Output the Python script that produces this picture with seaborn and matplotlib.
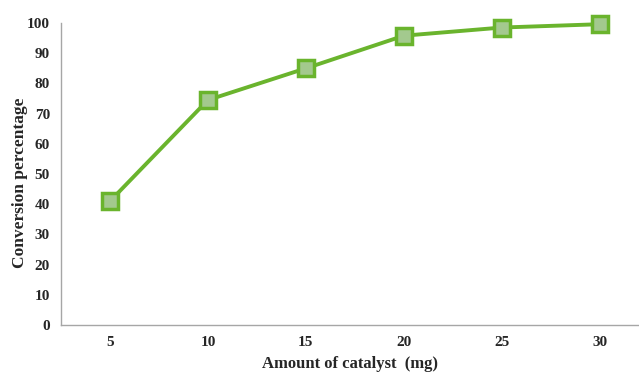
import matplotlib
matplotlib.use("Agg")
import matplotlib.pyplot as plt
import seaborn as sns
import pandas as pd

# data
catalyst_mg = ["5", "10", "15", "20", "25", "30"]
conversion = [41, 74.5, 85, 95.8, 98.5, 99.6]

sns.set_style("white")
plt.rcParams['font.family'] = ['Liberation Serif', 'DejaVu Serif']
plt.rcParams['font.weight'] = 'bold'

df = pd.DataFrame({"pos": range(len(catalyst_mg)), "conv": conversion})

fig = plt.figure(figsize=(6.39, 3.74), dpi=100)
ax = fig.add_axes([61 / 639, 49 / 374, (639 - 61) / 639, 302 / 374])

green = '#6ab42d'
sns.lineplot(data=df, x="pos", y="conv", ax=ax, color=green, linewidth=2.8,
             marker='s', markersize=11, markerfacecolor='#a3c98e',
             markeredgecolor=green, markeredgewidth=2.5, legend=False)
for ln in ax.lines:
    ln.set_clip_on(False)

ax.set_xlim(-0.5, 5.4)
ax.set_ylim(0, 100)
ax.set_yticks(range(0, 101, 10))
ax.set_xticks(range(len(catalyst_mg)))
ax.set_xticklabels(catalyst_mg)

for s in ['top', 'right']:
    ax.spines[s].set_visible(False)
for s in ['left', 'bottom']:
    ax.spines[s].set_color('#a6a6a6')
    ax.spines[s].set_linewidth(1.0)

ax.tick_params(axis='y', direction='out', length=4, width=1, color='#a6a6a6',
               labelsize=11, pad=4)
ax.tick_params(axis='x', length=0, labelsize=11, pad=8)
for lab in ax.get_xticklabels() + ax.get_yticklabels():
    lab.set_fontweight('bold')

ax.set_xlabel("Amount of catalyst  (mg)", fontsize=12, fontweight='bold', labelpad=5)
ax.set_ylabel("Conversion percentage", fontsize=12.5, fontweight='bold')
ax.yaxis.set_label_coords(-0.057, 0.47)

fig.savefig("out.png", dpi=100)
